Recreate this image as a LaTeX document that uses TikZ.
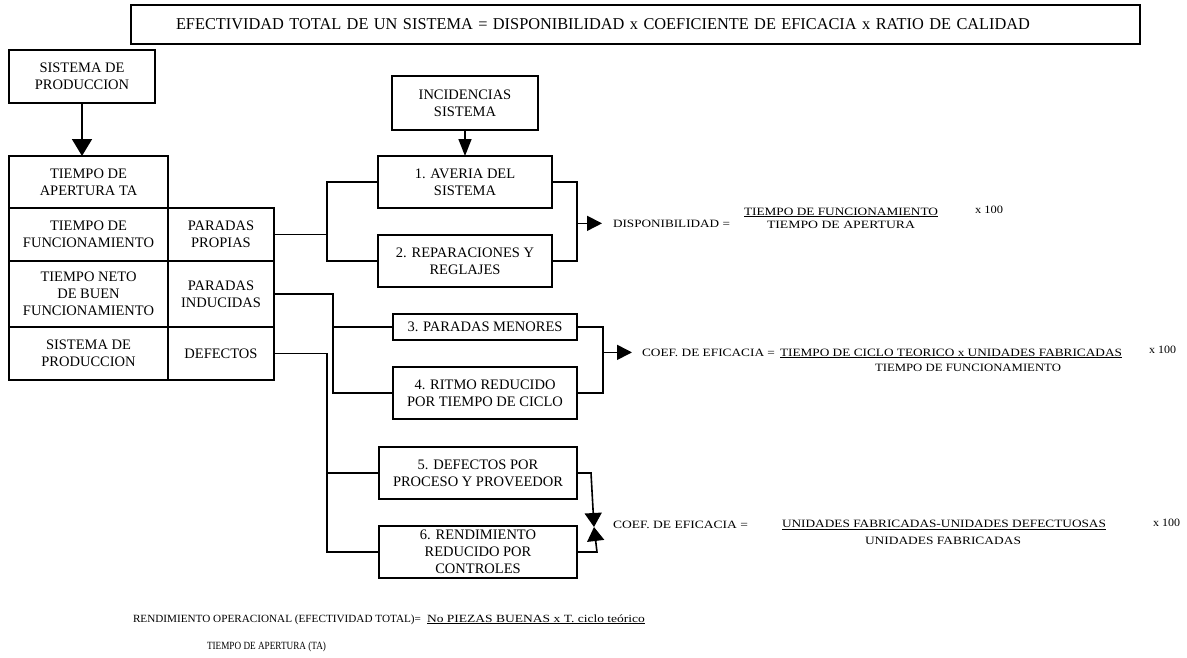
\documentclass[tikz,border=0pt]{standalone}
\usepackage{fontspec}
\setmainfont{Liberation Serif}
\usepackage{graphicx}
\usetikzlibrary{arrows.meta,calc}
% stretch a line of text to a given width, keeping its height
\newcommand{\fitto}[2]{\resizebox{#1pt}{\height}{#2}}
\begin{document}
\begin{tikzpicture}[x=1pt,y=-1pt,
  every node/.style={inner sep=0pt, outer sep=0pt},
  cell/.style={draw, line width=1.6pt, align=center,
    font=\fontsize{14.5}{17}\selectfont},
  wire/.style={line width=1.6pt},
  arrA/.style={wire, -{Triangle[length=15pt,width=15pt]}},
  arrB/.style={wire, -{Triangle[length=17pt,width=20pt]}},
  arrC/.style={wire, -{Triangle[length=17pt,width=13pt]}},
  arrD/.style={wire, -{Triangle[length=14pt,width=17pt]}},
  ftxt/.style={font=\fontsize{11.2}{13}\selectfont},
  btxt/.style={font=\fontsize{11}{13}\selectfont}]

\fill[white] (0,0) rectangle (1187,657);
\useasboundingbox (0,0) rectangle (1187,657);

% heading
\node[draw, line width=1.6pt, anchor=west, minimum height=39pt,
      inner xsep=45pt, text width=919pt, align=left,
      font=\fontsize{16.5}{18}\selectfont] (title) at (131,24.5)
  {\fitto{854}{EFECTIVIDAD TOTAL DE UN SISTEMA = DISPONIBILIDAD x COEFICIENTE DE EFICACIA x RATIO DE CALIDAD}};

% production system and time breakdown
\node[cell, minimum width=146pt, minimum height=53pt] (sp) at (82,76.5) {SISTEMA DE\\PRODUCCION};
\node[cell, minimum width=159pt, minimum height=52pt] (ta) at (88.5,182) {TIEMPO DE\\APERTURA TA};
\node[cell, minimum width=159pt, minimum height=53pt] (tf) at (88.5,234.5) {TIEMPO DE\\FUNCIONAMIENTO};
\node[cell, minimum width=159pt, minimum height=66pt] (tn) at (88.5,294) {TIEMPO NETO\\DE BUEN\\FUNCIONAMIENTO};
\node[cell, minimum width=159pt, minimum height=53pt] (sp2) at (88.5,353.5) {SISTEMA DE\\PRODUCCION};
\node[cell, minimum width=106pt, minimum height=53pt] (pp) at (221,234.5) {PARADAS\\PROPIAS};
\node[cell, minimum width=106pt, minimum height=66pt] (pi) at (221,294) {PARADAS\\INDUCIDAS};
\node[cell, minimum width=106pt, minimum height=53pt] (def) at (221,353.5) {DEFECTOS};

\draw[arrB] (sp.south) -- (sp.south |- ta.north);

% incidences
\node[cell, minimum width=146pt, minimum height=54pt] (inc) at (465,103) {INCIDENCIAS\\SISTEMA};
\node[cell, minimum width=174pt, minimum height=52pt] (b1) at (465,182) {1. AVERIA DEL\\SISTEMA};
\node[cell, minimum width=174pt, minimum height=52pt] (b2) at (465,261) {2. REPARACIONES Y\\REGLAJES};
\node[cell, minimum width=184pt, minimum height=26pt] (b3) at (485,327) {3. PARADAS MENORES};
\node[cell, minimum width=184pt, minimum height=52pt] (b4) at (485,393) {4. RITMO REDUCIDO\\POR TIEMPO DE CICLO};
\node[cell, minimum width=198pt, minimum height=52pt] (b5) at (478,473) {5. DEFECTOS POR\\PROCESO Y PROVEEDOR};
\node[cell, minimum width=198pt, minimum height=52pt] (b6) at (478,552) {6. RENDIMIENTO\\REDUCIDO POR\\CONTROLES};

\draw[arrC] (inc.south) -- (b1.north);

% formulas
\node[ftxt, anchor=base west] (d1) at (613,227) {\fitto{117}{DISPONIBILIDAD =}};
\node[ftxt, anchor=base] (d1n) at (841,215) {\fitto{194}{\underline{TIEMPO DE FUNCIONAMIENTO}}};
\node[ftxt, anchor=base] (d1d) at (841,228) {\fitto{148}{TIEMPO DE APERTURA}};
\node[ftxt, anchor=base west] (d1x) at (975,213) {\fitto{28}{x 100}};

\node[ftxt, anchor=base west] (e2) at (642,356) {\fitto{133}{COEF. DE EFICACIA =}};
\node[ftxt, anchor=base west] (e2n) at (780,356) {\fitto{342}{\underline{TIEMPO DE CICLO TEORICO x UNIDADES FABRICADAS}}};
\node[ftxt, anchor=base west] (e2d) at (875,371.5) {\fitto{186}{TIEMPO DE FUNCIONAMIENTO}};
\node[ftxt, anchor=base west] (e2x) at (1149,353) {\fitto{27}{x 100}};

\node[ftxt, anchor=base west] (e3) at (613,528.5) {\fitto{135}{COEF. DE EFICACIA =}};
\node[ftxt, anchor=base west] (e3n) at (782,527.5) {\fitto{324}{\underline{UNIDADES FABRICADAS-UNIDADES DEFECTUOSAS}}};
\node[ftxt, anchor=base] (e3d) at (943,544.5) {\fitto{156}{UNIDADES FABRICADAS}};
\node[ftxt, anchor=base west] (e3x) at (1153,526) {\fitto{27}{x 100}};

\node[btxt, anchor=base west] (r1) at (133,622) {\fitto{288}{RENDIMIENTO OPERACIONAL (EFECTIVIDAD TOTAL)=}};
\node[btxt, anchor=base west] (r1n) at (427,622) {\fitto{218}{\underline{No PIEZAS BUENAS x T. ciclo teórico}}};
\node[btxt, anchor=base west] (r1d) at (207,649) {\fitto{119}{TIEMPO DE APERTURA (TA)}};

% junction lines
\coordinate (j1) at (327,0);
\coordinate (k1) at (577,0);
\coordinate (j2) at (333,0);
\coordinate (k2) at (603,0);
\coordinate (j3) at (327,0);
\coordinate (q5) at (591,0);
\coordinate (q6) at (597,0);
\coordinate (m) at (594,527);

% own stops
\draw[wire] (pp.east) -- (j1 |- pp.east);
\draw[wire] (b1.west) -- (j1 |- b1.west) -- (j1 |- b2.west) -- (b2.west);
\draw[wire] (b1.east) -- (k1 |- b1.east) -- (k1 |- b2.east) -- (b2.east);
\draw[arrA, shorten >=11pt] (k1 |- d1.west) -- (d1.west);

% induced stops
\draw[wire] (pi.east) -- (j2 |- pi.east) -- (j2 |- b4.west) -- (b4.west);
\draw[wire] (j2 |- b3.west) -- (b3.west);
\draw[wire] (b3.east) -- (k2 |- b3.east) -- (k2 |- b4.east) -- (b4.east);
\draw[arrA, shorten >=10pt] (k2 |- e2.west) -- (e2.west);

% defects
\draw[wire] (def.east) -- (j3 |- def.east) -- (j3 |- b6.west) -- (b6.west);
\draw[wire] (j3 |- b5.west) -- (b5.west);
\draw[arrD] (b5.east) -- (q5 |- b5.east) -- (m);
\draw[arrD] (b6.east) -- (q6 |- b6.east) -- (m);
\end{tikzpicture}
\end{document}
